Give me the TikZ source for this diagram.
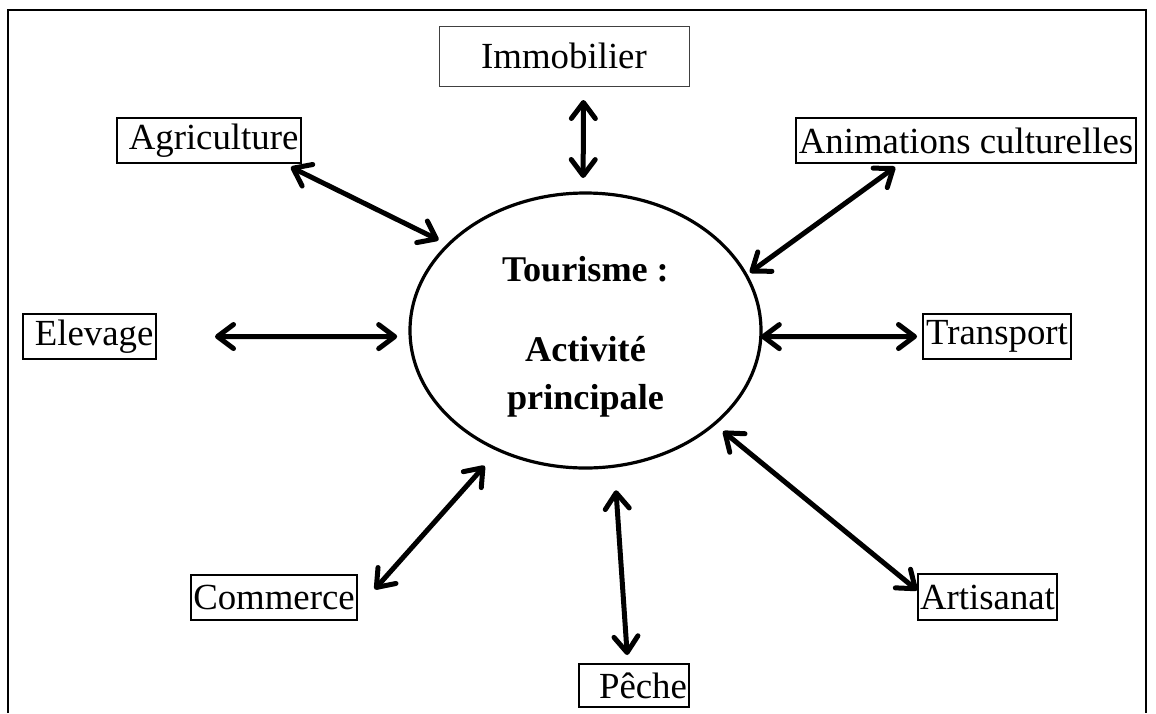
\documentclass[tikz,border=0pt]{standalone}
\usepackage{fontspec}
\setmainfont{Liberation Serif}
\usetikzlibrary{arrows.meta,shapes.geometric}
\tikzset{
  every node/.style={font=\fontsize{18.4}{22}\selectfont, outer sep=0pt},
  box/.style={draw, line width=0.7pt, inner xsep=1pt, inner ysep=0pt, minimum height=22.5pt},
  thinbox/.style={draw=black!75, line width=0.5pt, inner sep=0pt, minimum width=125pt, minimum height=30pt},
  hub/.style={ellipse, draw, line width=1.6pt, inner sep=0pt, align=center,
    font=\bfseries\fontsize{18.1}{24}\selectfont},
  link/.style={{Straight Barb[length=8pt,width=12pt,round]}-{Straight Barb[length=8pt,width=12pt,round]}, line width=2.5pt},
  frameline/.style={line width=1pt},
}
\begin{document}
\begin{tikzpicture}[x=0.5pt,y=-0.5pt]
\useasboundingbox (0,0) rectangle (1156,713);
\draw[frameline] (8,713) -- (8,10) -- (1146,10) -- (1146,713);
% centre
\node[hub, minimum width=175.5pt, minimum height=137.5pt] (tour) at (585.5,330.5) {\rule{0pt}{19pt}Tourisme :\\[16pt]Activité\\principale};
% activities
\node[thinbox] (immo) at (564,56) {Immobilier};
\node[box, minimum width=92pt] (agri) at (209,140.5) {\ Agriculture};
\node[box, minimum width=170pt] (anim) at (966,140.5) {Animations culturelles};
\node[box, minimum width=66.5pt] (elev) at (89.5,336.5) {\ Elevage};
\node[box, minimum width=74pt] (trans) at (997,336.5) {Transport};
\node[box, minimum width=83pt] (comm) at (274,597.5) {Commerce};
\node[box, minimum width=69.5pt, minimum height=23pt] (arti) at (987.5,597) {Artisanat};
\node[box, minimum width=55pt, minimum height=21.5pt] (peche) at (634,685.5) {\hspace{9pt}Pêche};
% links
\draw[link, shorten <=4.6pt, shorten >=5.4pt] (agri.-17.9) -- (tour.148.5);
\draw[link, shorten <=7pt, shorten >=7.5pt] (immo.-57.6) -- (tour.91);
\draw[link, shorten <=3.4pt, shorten >=2.3pt] (anim.199.5) -- (tour.19.3);
\draw[link, shorten <=29.5pt, shorten >=6.5pt] (elev.east) -- (tour.182);
\draw[link, shorten <=3pt] (trans.west) -- (tour.-2);
\draw[link, shorten <=13.3pt, shorten >=10.6pt] (comm.-8.2) -- (tour.234.7);
\draw[link, shorten <=4.5pt, shorten >=12.1pt] (peche.106.8) -- (tour.-78.5);
\draw[link, shorten <=0.5pt, shorten >=5.75pt] (arti.175.1) -- (tour.-36.6);
\end{tikzpicture}
\end{document}
